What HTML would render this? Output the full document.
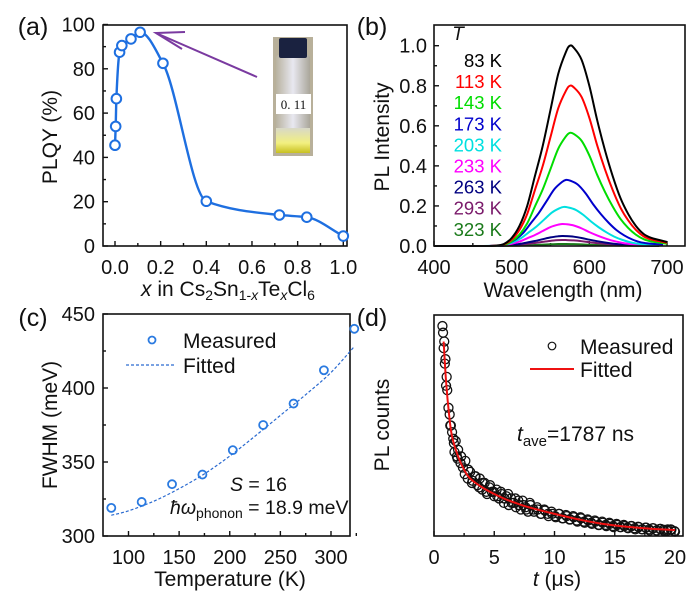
<!DOCTYPE html>
<html><head><meta charset="utf-8"><style>
html,body{margin:0;padding:0;background:#fff;}
svg{display:block;font-family:"Liberation Sans",Arial,sans-serif;}
</style></head><body>
<svg id="fig" width="693" height="597" viewBox="0 0 693 597" xmlns="http://www.w3.org/2000/svg">
<defs>
<linearGradient id="glass" x1="0" x2="1" y1="0" y2="0"><stop offset="0" stop-color="#b8b2a0"/><stop offset="0.5" stop-color="#e8e8f0"/><stop offset="1" stop-color="#aaa69a"/></linearGradient>
<linearGradient id="glow" x1="0" x2="0" y1="0" y2="1"><stop offset="0" stop-color="#d8d8c8"/><stop offset="0.6" stop-color="#f2f080"/><stop offset="1" stop-color="#c8c020"/></linearGradient>
</defs>
</svg>
<script>
// ---------- data ----------
const plqyX = [0.0, 0.003, 0.006, 0.02, 0.03, 0.07, 0.11, 0.21, 0.40, 0.72, 0.84, 1.0];
const plqyY = [45.5, 54, 66.5, 87.5, 90.5, 93.5, 96.5, 82.5, 20.2, 14, 13, 4.5];
const plqyXTicks = [0.0, 0.2, 0.4, 0.6, 0.8, 1.0];
const plqyYTicks = [0, 20, 40, 60, 80, 100];

const waveNm = [400,410,420,430,440,450,460,470,480,490,500,510,520,530,540,550,560,570,575,580,590,600,610,620,630,640,650,660,670,680,690,700];
const specShape = [0,0,0,0,0,0,0,0,0.002,0.01,0.04,0.1,0.2,0.35,0.5,0.68,0.86,0.97,1.0,0.99,0.93,0.8,0.63,0.48,0.35,0.24,0.16,0.1,0.06,0.04,0.03,0.02];
const tempLabels = ["83 K","113 K","143 K","173 K","203 K","233 K","263 K","293 K","323 K"];
const tempAmps = [1.0, 0.8, 0.565, 0.33, 0.195, 0.11, 0.05, 0.03, 0.01];
const tempShift = [0, 0, 0, -5, -8, -10, -10, -10, -10];
const tempColors = ["#000000","#ff0000","#00dd00","#0000cc","#00e0e0","#ff00ff","#000080","#7a1a6a","#1a7a1a"];
const specXTicks = [400, 500, 600, 700];
const specYTicks = [0.0, 0.2, 0.4, 0.6, 0.8, 1.0];

const fwhmT = [83, 113, 143, 173, 203, 233, 263, 293, 323];
const fwhmMeas = [319, 323, 335, 341.5, 358, 375, 389.5, 412, 440];
const fitT = [83, 100, 125, 150, 175, 200, 225, 250, 275, 300, 323];
const fitFwhm = [314, 317, 323.5, 332, 342, 354, 367.5, 381.5, 395.5, 410.5, 428];
const fwhmXTicks = [100, 150, 200, 250, 300];
const fwhmYTicks = [300, 350, 400, 450];

const decayFitT = [0.8,1,1.25,1.5,2,2.5,3,4,5,6,7,8,10,12,14,16,18,20];
const decayFitY = [0.88,0.70,0.55,0.45,0.36,0.30,0.26,0.22,0.19,0.165,0.145,0.128,0.10,0.075,0.055,0.042,0.033,0.027];
const decayT = [0.7,0.75,0.8,0.85,0.9,0.95,1.0,1.1,1.2,1.3,1.4,1.5,1.6,1.7,1.8,1.9,2.0,2.2,2.4,2.6,2.8,3.0,3.2,3.4,3.6,3.8,4.0,4.2,4.4,4.6,4.8,5.0,5.2,5.4,5.6,5.8,6.0,6.2,6.4,6.6,6.8,7.0,7.2,7.4,7.6,7.8,8.0,8.3,8.6,8.9,9.2,9.5,9.8,10.1,10.4,10.7,11.0,11.3,11.6,11.9,12.2,12.5,12.8,13.1,13.4,13.7,14.0,14.3,14.6,14.9,15.2,15.5,15.8,16.1,16.4,16.7,17.0,17.3,17.6,17.9,18.2,18.5,18.8,19.1,19.4,19.7,20.0];
const decayY = [0.95,0.92,0.85,0.88,0.78,0.80,0.68,0.66,0.58,0.55,0.50,0.47,0.44,0.38,0.43,0.36,0.39,0.33,0.31,0.34,0.26,0.29,0.25,0.27,0.23,0.26,0.21,0.24,0.19,0.22,0.20,0.18,0.21,0.17,0.19,0.15,0.18,0.14,0.17,0.15,0.13,0.16,0.12,0.14,0.13,0.11,0.14,0.11,0.12,0.10,0.115,0.09,0.10,0.085,0.10,0.08,0.09,0.075,0.085,0.065,0.08,0.06,0.07,0.055,0.065,0.05,0.06,0.045,0.055,0.04,0.05,0.04,0.045,0.035,0.045,0.03,0.04,0.03,0.038,0.025,0.035,0.025,0.032,0.022,0.03,0.028,0.02];
const decayT2 = [1.05,1.35,1.65,1.95,2.25,2.55,2.85,3.15,3.45,3.75,4.05,4.35,4.65,4.95,5.25,5.55,5.85,6.15,6.45,6.75,7.05,7.35,7.65,7.95,8.25,8.55,8.85,9.15,9.45,9.75,10.05,10.35,10.65,10.95,11.25,11.55,11.85,12.15,12.45,12.75,13.05,13.35,13.65,13.95,14.25,14.55,14.85,15.15,15.45,15.75,16.05,16.35,16.65,16.95,17.25,17.55,17.85,18.15,18.45,18.75,19.05,19.35,19.65,19.95];
const decayY2 = [0.72,0.5,0.42,0.35,0.36,0.28,0.3,0.24,0.27,0.22,0.24,0.2,0.23,0.2,0.18,0.2,0.17,0.19,0.15,0.17,0.14,0.16,0.12,0.15,0.12,0.13,0.1,0.12,0.1,0.11,0.09,0.1,0.08,0.095,0.075,0.09,0.07,0.085,0.065,0.075,0.06,0.07,0.05,0.065,0.05,0.06,0.045,0.055,0.04,0.05,0.038,0.045,0.035,0.042,0.03,0.038,0.03,0.035,0.025,0.032,0.028,0.024,0.03,0.022];
const decayXTicks = [0, 5, 10, 15, 20];

// ---------- helpers ----------
const NS = "http://www.w3.org/2000/svg";
const svg = document.getElementById("fig");
function el(tag, attrs, parent) {
  const e = document.createElementNS(NS, tag);
  for (const k in attrs) e.setAttribute(k, attrs[k]);
  (parent || svg).appendChild(e);
  return e;
}
function txt(s, x, y, size, anchor, parent, extra) {
  const t = el("text", Object.assign({x: x, y: y, "font-size": size, "text-anchor": anchor || "middle", fill: "#111"}, extra || {}), parent);
  t.textContent = s;
  return t;
}
function lin(d0, d1, p0, p1) { return v => p0 + (v - d0) * (p1 - p0) / (d1 - d0); }
function catmull(pts) {
  let d = "M" + pts[0][0] + "," + pts[0][1];
  for (let i = 0; i < pts.length - 1; i++) {
    const p0 = pts[Math.max(0, i - 1)], p1 = pts[i], p2 = pts[i + 1], p3 = pts[Math.min(pts.length - 1, i + 2)];
    const t = 0.5 / 3;
    d += " C" + (p1[0] + (p2[0] - p0[0]) * t) + "," + (p1[1] + (p2[1] - p0[1]) * t) + " " +
      (p2[0] - (p3[0] - p1[0]) * t) + "," + (p2[1] - (p3[1] - p1[1]) * t) + " " + p2[0] + "," + p2[1];
  }
  return d;
}
// monotone cubic (Fritsch-Carlson) path through points sorted by x
function monotone(pts) {
  const n = pts.length, dx = [], sl = [], m = [];
  for (let i = 0; i < n - 1; i++) { dx[i] = pts[i+1][0] - pts[i][0]; sl[i] = (pts[i+1][1] - pts[i][1]) / dx[i]; }
  m[0] = sl[0]; m[n-1] = sl[n-2];
  for (let i = 1; i < n - 1; i++) {
    if (sl[i-1] * sl[i] <= 0) m[i] = 0;
    else { const w1 = 2*dx[i] + dx[i-1], w2 = dx[i] + 2*dx[i-1]; m[i] = (w1 + w2) / (w1/sl[i-1] + w2/sl[i]); }
  }
  let d = "M" + pts[0][0] + "," + pts[0][1];
  for (let i = 0; i < n - 1; i++) {
    const h = dx[i] / 3;
    d += " C" + (pts[i][0] + h) + "," + (pts[i][1] + m[i]*h) + " " + (pts[i+1][0] - h) + "," + (pts[i+1][1] - m[i+1]*h) + " " + pts[i+1][0] + "," + pts[i+1][1];
  }
  return d;
}
function frame(g, x0, y0, x1, y1) {
  const r = el("rect", {x: x0, y: y0, width: x1 - x0, height: y1 - y0, fill: "none", stroke: "#111", "stroke-width": 1.6}, g);
  
  
}
function xTick(g, x, y, len) { el("line", {x1: x, x2: x, y1: y, y2: y - len, stroke: "#111", "stroke-width": 1.4}, g); }
function yTick(g, x, y, len) { el("line", {x1: x, x2: x + len, y1: y, y2: y, stroke: "#111", "stroke-width": 1.4}, g); }
const TICK = 20, TITLE = 21;

// ================= Panel (a) =================
{
  const g = el("g", {});
  
  
  const X = lin(0, 1, 115, 343.3), Y = lin(0, 100, 246, 24.5);
  frame(g, 103, 25, 347, 246);
  plqyXTicks.forEach(v => { xTick(g, X(v), 246, 5); const t = txt(v.toFixed(1), X(v), 274, TICK, "middle", g);
    
     });
  for (let i = 0; i < 5; i++) xTick(g, X(0.1 + 0.2 * i), 246, 3);
  plqyYTicks.forEach(v => { yTick(g, 103, Y(v), 5); const t = txt(String(v), 95, Y(v) + 7, TICK, "end", g);
    
     });
  for (let i = 0; i < 5; i++) yTick(g, 103, Y(10 + 20 * i), 3);
  const yl = txt("PLQY (%)", 0, 0, TITLE, "middle", g, {transform: "translate(57,137) rotate(-90)"});
  
  
  const xl = el("text", {x: 228, y: 296, "font-size": TITLE, "text-anchor": "middle", fill: "#111"}, g);
  
  
  xl.innerHTML = '<tspan font-style="italic">x</tspan> in Cs<tspan font-size="14" dy="4">2</tspan><tspan dy="-4">Sn</tspan><tspan font-size="14" dy="4">1-<tspan font-style="italic">x</tspan></tspan><tspan dy="-4">Te</tspan><tspan font-size="14" dy="4" font-style="italic">x</tspan><tspan dy="-4">Cl</tspan><tspan font-size="14" dy="4">6</tspan>';
  const pl = txt("(a)", 33, 35, 25, "middle", g);
  
  
  // vial inset
  const vial = el("g", {}, g);
  
  
  el("rect", {x: 273, y: 37, width: 40, height: 119, fill: "#b8b09a"}, vial);
  el("rect", {x: 276, y: 55, width: 34, height: 98, rx: 3, fill: "url(#glass)"}, vial);
  el("rect", {x: 279, y: 38, width: 28, height: 20, rx: 2, fill: "#1a2240"}, vial);
  el("rect", {x: 276, y: 128, width: 34, height: 25, fill: "url(#glow)"}, vial);
  el("rect", {x: 276, y: 94, width: 35, height: 20, fill: "#fff"}, vial);
  const vt = txt("0. 11", 293.5, 109, 13, "middle", vial, {"font-family": "Liberation Serif, serif"});
  
  
  // arrow
  const ar = el("g", {stroke: "#7a3aa0", "stroke-width": 2, fill: "none"}, g);
  
  
  el("line", {x1: 257, y1: 77, x2: 156, y2: 33}, ar);
  el("polyline", {points: "185,32 156,33 182,49"}, ar);
  // curve + points
  const pts = plqyX.map((v, i) => [X(v), Y(plqyY[i])]);
  const c = el("path", {d: monotone(pts), fill: "none", stroke: "#1e6fe0", "stroke-width": 2.4}, g);
  
  
  pts.forEach(p => {
    const m = el("circle", {cx: p[0], cy: p[1], r: 4.8, fill: "#fff", stroke: "#1e6fe0", "stroke-width": 2}, g);
    
    
  });
}

// ================= Panel (b) =================
{
  const g = el("g", {});
  
  
  const X = lin(400, 700, 434, 667), Y = lin(0, 1, 246, 45.7);
  specXTicks.forEach(v => { xTick(g, X(v), 246, 5); const t = txt(String(v), X(v), 274, TICK, "middle", g);
    
     });
  [450, 550, 650].forEach(v => xTick(g, X(v), 246, 3));
  specYTicks.forEach(v => { yTick(g, 434, Y(v), 5); const t = txt(v.toFixed(1), 427, Y(v) + 7, TICK, "end", g);
    
     });
  [0.1, 0.3, 0.5, 0.7, 0.9].forEach(v => yTick(g, 434, Y(v), 3));
  for (let k = tempAmps.length - 1; k >= 0; k--) {
    const pts = waveNm.map((w, i) => [X(w + tempShift[k]), Y(specShape[i] * tempAmps[k])]).filter(p => p[0] <= X(700) + 0.1 && p[0] >= 434);
    const pth = el("path", {d: catmull(pts), fill: "none", stroke: tempColors[k], "stroke-width": 2}, g);
    
    
  }
  frame(g, 434, 25, 685, 246);
  const tt = txt("T", 458, 40, 19, "middle", g, {"font-style": "italic"});
  
  
  tempLabels.forEach((s, k) => {
    const t = txt(s, 502, 67 + k * 21.1, 18.5, "end", g, {fill: tempColors[k]});
    
    
  });
  const yl = txt("PL Intensity", 0, 0, TITLE, "middle", g, {transform: "translate(389,137) rotate(-90)"});
  
  
  const xl = txt("Wavelength (nm)", 563, 297, TITLE, "middle", g);
  
  
  const pl = txt("(b)", 372, 35, 25, "middle", g);
  
  
}

// ================= Panel (c) =================
{
  const g = el("g", {});
  
  
  const X = lin(100, 300, 128.5, 331), Y = lin(300, 450, 536, 314);
  frame(g, 103, 314, 350, 536);
  fwhmXTicks.forEach(v => { xTick(g, X(v), 536, 5); const t = txt(String(v), X(v), 564, TICK, "middle", g);
    
     });
  [125, 175, 225, 275, 325].forEach(v => xTick(g, X(v), 536, 3));
  fwhmYTicks.forEach(v => { yTick(g, 103, Y(v), 5); const t = txt(String(v), 95, Y(v) + 7, TICK, "end", g);
    
     });
  [325, 375, 425].forEach(v => yTick(g, 103, Y(v), 3));
  const fit = el("path", {d: catmull(fitT.map((t, i) => [X(t), Y(fitFwhm[i])])), fill: "none", stroke: "#2a6ad0", "stroke-width": 1.2, "stroke-dasharray": "3,2"}, g);
  
  
  fwhmT.forEach((t, i) => {
    const m = el("circle", {cx: X(t), cy: Y(fwhmMeas[i]), r: 4, fill: "none", stroke: "#2a7ae0", "stroke-width": 1.8}, g);
    
    
  });
  const lm = el("circle", {cx: 152, cy: 340, r: 3.5, fill: "none", stroke: "#2a7ae0", "stroke-width": 1.8}, g);
  
  
  const t1 = txt("Measured", 183, 348, TITLE, "start", g);
  
  
  const ll = el("line", {x1: 126, x2: 176, y1: 365, y2: 365, stroke: "#2a6ad0", "stroke-width": 1.2, "stroke-dasharray": "3,2"}, g);
  
  
  const t2 = txt("Fitted", 183, 373, TITLE, "start", g);
  
  
  const s = el("text", {x: 230, y: 491, "font-size": 19.5, fill: "#111"}, g);
  
  
  s.innerHTML = '<tspan font-style="italic">S</tspan> = 16';
  const h = el("text", {x: 170, y: 514, "font-size": 19.5, fill: "#111"}, g);
  
  
  h.innerHTML = '<tspan font-style="italic">ħω</tspan><tspan font-size="14" dy="4">phonon</tspan><tspan dy="-4"> = 18.9 meV</tspan>';
  const yl = txt("FWHM (meV)", 0, 0, TITLE, "middle", g, {transform: "translate(57,425) rotate(-90)"});
  
  
  const xl = txt("Temperature (K)", 230, 586, TITLE, "middle", g);
  
  
  const pl = txt("(c)", 33, 326, 25, "middle", g);
  
  
}

// ================= Panel (d) =================
{
  const g = el("g", {});
  
  
  const X = lin(0, 20, 434, 675), Y = lin(0, 1, 536, 315);
  decayXTicks.forEach(v => { xTick(g, X(v), 536, 5); const t = txt(String(v), X(v), 564, TICK, "middle", g);
    
     });
  [2.5, 7.5, 12.5, 17.5].forEach(v => xTick(g, X(v), 536, 3));
  decayT.forEach((t, i) => {
    const m = el("circle", {cx: X(t), cy: Y(decayY[i]), r: 4.5, fill: "none", stroke: "#111", "stroke-width": 1.3}, g);
    
    
  });
  decayT2.forEach((t, i) => {
    const m = el("circle", {cx: X(t), cy: Y(decayY2[i]), r: 4.5, fill: "none", stroke: "#111", "stroke-width": 1.3}, g);
    
    
  });
  const fit = el("path", {d: catmull(decayFitT.map((t, i) => [X(t), Y(decayFitY[i])])), fill: "none", stroke: "#ee1111", "stroke-width": 2}, g);
  
  
  frame(g, 434, 315, 683, 536);
  const lm = el("circle", {cx: 552, cy: 346, r: 3.8, fill: "none", stroke: "#111", "stroke-width": 1.2}, g);
  
  
  const t1 = txt("Measured", 580, 354, TITLE, "start", g);
  
  
  const ll = el("line", {x1: 530, x2: 574, y1: 369, y2: 369, stroke: "#ee1111", "stroke-width": 2}, g);
  
  
  const t2 = txt("Fitted", 580, 377, TITLE, "start", g);
  
  
  const ta = el("text", {x: 517, y: 441, "font-size": 21, fill: "#111"}, g);
  
  
  ta.innerHTML = '<tspan font-style="italic">t</tspan><tspan font-size="15" dy="5">ave</tspan><tspan dy="-5">=1787 ns</tspan>';
  const yl = txt("PL counts", 0, 0, TITLE, "middle", g, {transform: "translate(389,425) rotate(-90)"});
  
  
  const xl = el("text", {x: 557, y: 586, "font-size": TITLE, "text-anchor": "middle", fill: "#111"}, g);
  
  
  xl.innerHTML = '<tspan font-style="italic">t</tspan> (μs)';
  const pl = txt("(d)", 372, 326, 25, "middle", g);
  
  
}
</script>
</body></html>
